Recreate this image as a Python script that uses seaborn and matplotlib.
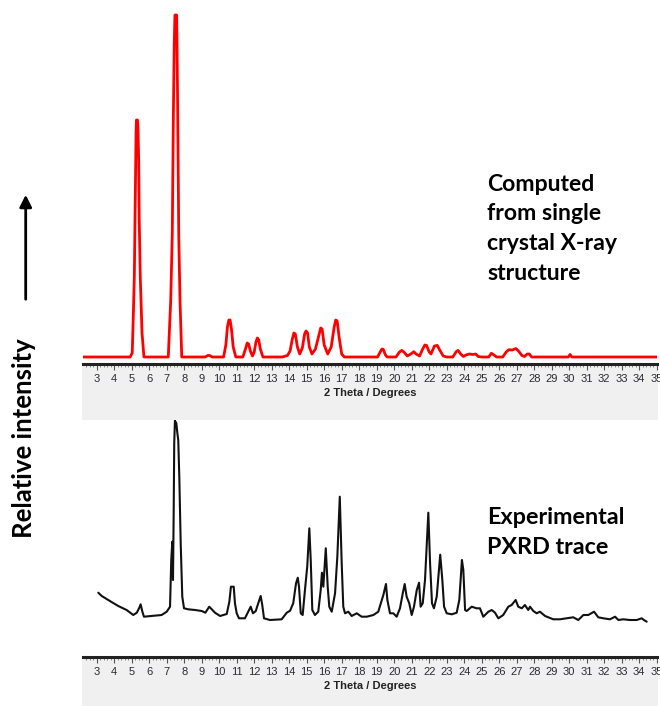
import matplotlib
matplotlib.use("Agg")
import matplotlib.pyplot as plt
from matplotlib.patches import Rectangle, FancyArrowPatch
from matplotlib.ticker import MultipleLocator, FixedLocator
import seaborn as sns
import pandas as pd

# ---------------- data ----------------
# Computed (single crystal) pattern: 2theta (deg), intensity (arb.)
calc_2theta = [2.2, 4.91, 5.03, 5.09, 5.15, 5.19, 5.25, 5.27, 5.33, 5.36, 5.40, 5.43, 5.49, 5.59, 5.70,
               7.09, 7.23, 7.32, 7.38, 7.43, 7.47, 7.57, 7.61, 7.65, 7.69, 7.76, 7.86,
               9.2, 9.35, 9.45, 9.6,
               10.25, 10.38, 10.47, 10.55, 10.62, 10.7, 10.8, 10.95,
               11.35, 11.5, 11.6, 11.68, 11.78, 11.9, 12.0, 12.1, 12.18, 12.26, 12.35, 12.5,
               13.6, 13.9, 14.05, 14.18, 14.27, 14.35, 14.47, 14.6, 14.75, 14.88, 14.96, 15.05, 15.15, 15.3,
               15.5, 15.7, 15.8, 15.88, 16.0, 16.2, 16.4, 16.57, 16.66, 16.74, 16.85, 17.0, 17.15,
               19.05, 19.2, 19.3, 19.38, 19.5, 19.6,
               20.1, 20.3, 20.43, 20.55, 20.75, 20.95, 21.12, 21.25, 21.45, 21.6, 21.75, 21.85, 22.0, 22.1,
               22.3, 22.46, 22.6, 22.8, 23.0,
               23.35, 23.55, 23.65, 23.8, 23.95, 24.1, 24.3, 24.5, 24.66, 24.8, 25.0,
               25.4, 25.55, 25.7, 25.85,
               26.2, 26.4, 26.55, 26.75, 26.95, 27.1, 27.3, 27.45, 27.6, 27.72, 27.85,
               29.95, 30.05, 30.15, 35.2]
calc_intensity = [0, 0, 4, 40, 80, 137, 225, 237, 237, 229, 195, 137, 80, 24, 0,
                  0, 57, 124, 240, 313, 342, 342, 280, 200, 120, 57, 0,
                  0, 1.5, 1.5, 0,
                  0, 12, 30, 37, 37, 28, 10, 0,
                  0, 8, 14, 13, 6, 1, 5, 15, 19, 17, 8, 0,
                  0, 1.5, 6, 18, 24, 23, 10, 3, 9, 23, 26, 24, 10, 3,
                  8, 22, 29, 28, 12, 3, 10, 30, 37, 36, 20, 3, 0,
                  0, 5, 8, 7.5, 2, 0,
                  0, 5, 6.6, 5, 1, 3, 5.3, 3, 1, 7, 12, 11.5, 5, 3,
                  11, 11.6, 7, 1, 0,
                  0, 5.5, 6.6, 3, 0.5, 2, 3, 2.5, 3, 0.5, 0,
                  0, 3.7, 2, 0,
                  0, 5, 7.3, 7, 8.5, 6, 1.5, 0.5, 3, 3, 0,
                  0, 2.5, 0, 0]

# Experimental PXRD trace: 2theta (deg), intensity (arb.)
exp_2theta = [3.09, 3.29, 3.66, 4.23, 4.71, 5.09, 5.29, 5.42, 5.51, 5.61, 5.70, 6.14, 6.71, 7.0, 7.19,
              7.26, 7.32, 7.36, 7.40, 7.43, 7.47, 7.55, 7.61, 7.66, 7.72, 7.80, 7.89, 7.99, 8.23, 8.62,
              9.0, 9.21, 9.43, 9.57, 9.76, 10.05, 10.43, 10.58, 10.67, 10.83, 10.90, 11.0, 11.13, 11.47,
              11.66, 11.80, 11.93, 12.09, 12.23, 12.37, 12.46, 12.56, 12.90, 13.57,
              13.86, 14.05, 14.23, 14.39, 14.49, 14.56, 14.66, 14.77, 14.90, 15.03, 15.15, 15.23, 15.32,
              15.47, 15.66, 15.80, 15.87, 15.95, 16.09, 16.20, 16.29, 16.43, 16.62, 16.75, 16.89, 17.0,
              17.09, 17.19, 17.38, 17.57, 17.86, 18.14, 18.43, 18.81, 19.09, 19.29, 19.38, 19.53, 19.61,
              19.76, 19.95, 20.14, 20.33, 20.49, 20.60, 20.71, 20.86, 21.0, 21.13, 21.29, 21.42, 21.51,
              21.63, 21.76, 21.95, 22.05, 22.16, 22.27, 22.43, 22.63, 22.75, 22.85, 23.0, 23.29, 23.57,
              23.72, 23.87, 23.95, 24.05, 24.14, 24.43, 24.71, 24.90,
              25.09, 25.38, 25.57, 25.76, 25.95, 26.23, 26.52, 26.71, 26.94, 27.09, 27.29, 27.47, 27.66,
              27.76, 27.95, 28.14, 28.33, 28.62, 29.09, 29.47, 29.86, 30.23, 30.52, 30.81, 31.09, 31.42,
              31.66, 31.95, 32.33, 32.62, 32.81, 33.09, 33.47, 33.86, 34.14, 34.27, 34.43]
exp_intensity = [32.3, 29, 25, 19, 15, 10, 12.3, 16.7, 20.7, 13.3, 8.3, 9, 10, 13.3, 18.3,
                 65, 83.3, 45, 115, 181.7, 204.3, 201.7, 191.7, 185, 148.3, 81.7, 28.3, 16.7, 15.7, 15,
                 14, 12.3, 18.3, 15.7, 12.3, 9, 11, 23.3, 38.3, 38.3, 21.7, 11.7, 6.7, 6.7,
                 13.3, 18.3, 11.7, 14, 21.7, 29, 20, 6.7, 5, 5.7,
                 12.3, 14.3, 21.7, 41.7, 47.3, 38.3, 11.7, 10, 35, 58.3, 96.7, 65, 15,
                 10, 13.3, 35, 52.3, 38.3, 76.7, 38.3, 18.3, 13.3, 31.7, 68.3, 128.3, 61.7,
                 18.3, 11.7, 13.3, 9, 11.7, 8.3, 8.3, 10, 13.3, 25, 30, 41, 25,
                 11.7, 11.7, 8.3, 16.7, 31.7, 41, 28.3, 21.7, 10, 18.3, 35, 42.3, 18.3,
                 21.7, 45, 112.3, 61.7, 21.7, 16.7, 28.3, 70.3, 45, 18.3, 11.7, 10.7, 12.3,
                 25, 65, 55, 15, 14, 18.3, 16.7, 16.7,
                 8.3, 13.3, 15, 12.3, 6.7, 10, 18.3, 20, 25, 18.3, 16.7, 20, 15,
                 18.3, 14, 11.7, 13.3, 9, 5.7, 5.7, 6.7, 7.7, 5, 10, 10, 13.3,
                 7.7, 6.7, 5.7, 8.3, 5, 5.7, 5, 5, 6.7, 5, 3.3]

tick_values = list(range(3, 36))
x_label = "2 Theta / Degrees"
calc_label = "Computed\nfrom single\ncrystal X-ray\nstructure"
exp_label = "Experimental\nPXRD trace"
y_label = "Relative intensity"

calc_df = pd.DataFrame({"two_theta": calc_2theta, "intensity": calc_intensity})
exp_df = pd.DataFrame({"two_theta": exp_2theta, "intensity": exp_intensity})

# ---------------- figure ----------------
sns.set_style("white")
plt.rcParams["font.family"] = ["Liberation Sans", "DejaVu Sans"]

W, H = 660, 706
fig = plt.figure(figsize=(W / 100, H / 100), dpi=100)

def fx(px):
    return px / W

def fy(py):
    return 1 - py / H

x_left, x_right = 83, 657
xlim = (2.217, 35.017)
strip_col = "#f0f0f0"

# grey ruler strips behind the axes
fig.patches.append(Rectangle((fx(x_left - 1), fy(420)), fx(x_right - x_left + 2), (420 - 364) / H,
                             transform=fig.transFigure, facecolor=strip_col, edgecolor="none", zorder=-5))
fig.patches.append(Rectangle((fx(x_left - 1), 0), fx(x_right - x_left + 2), (H - 657) / H,
                             transform=fig.transFigure, facecolor=strip_col, edgecolor="none", zorder=-5))

ax1 = fig.add_axes([fx(x_left), fy(364), fx(x_right - x_left), 364 / H])
ax2 = fig.add_axes([fx(x_left), fy(657), fx(x_right - x_left), (657 - 420) / H])

sns.lineplot(data=calc_df, x="two_theta", y="intensity", ax=ax1, color="#ff0000",
             linewidth=2.0, estimator=None, sort=False)
sns.lineplot(data=exp_df, x="two_theta", y="intensity", ax=ax2, color="#111111",
             linewidth=1.5, estimator=None, sort=False)

ax1.set_ylim(-7, 357)
ax2.set_ylim(-32, 205)

for ax in (ax1, ax2):
    ax.set_xlim(*xlim)
    ax.patch.set_alpha(0)
    for s in ("left", "right", "top"):
        ax.spines[s].set_visible(False)
    ax.spines["bottom"].set_color("#222222")
    ax.spines["bottom"].set_linewidth(2.2)
    ax.set_yticks([])
    ax.set_ylabel("")
    ax.xaxis.set_major_locator(FixedLocator(tick_values))
    ax.xaxis.set_minor_locator(MultipleLocator(0.2))
    ax.tick_params(axis="x", which="major", direction="out", length=4, width=0.8,
                   color="#555555", labelsize=8, labelcolor="#2a2a33", pad=3, bottom=True)
    ax.tick_params(axis="x", which="minor", direction="out", length=2, width=0.6,
                   color="#777777", bottom=True)
    ax.set_xlabel(x_label, fontsize=8, fontweight="bold", color="#222222", labelpad=3)

# annotations
big = dict(fontweight="bold", family=["Lato", "DejaVu Sans"], color="black")
fig.text(fx(487), fy(174), calc_label, ha="left", va="top", fontsize=16.6, linespacing=1.5, **big)
fig.text(fx(487), fy(507), exp_label, ha="left", va="top", fontsize=16.8, linespacing=1.5, **big)
fig.text(fx(24), fy(438), y_label, ha="center", va="center", rotation=90, fontsize=18.5, **big)

fig.add_artist(FancyArrowPatch(
    (fx(25.7), fy(302)), (fx(25.7), fy(192)), transform=fig.transFigure,
    arrowstyle="-|>", mutation_scale=18, linewidth=2.0, color="black"))

fig.savefig("out.png", dpi=100)
